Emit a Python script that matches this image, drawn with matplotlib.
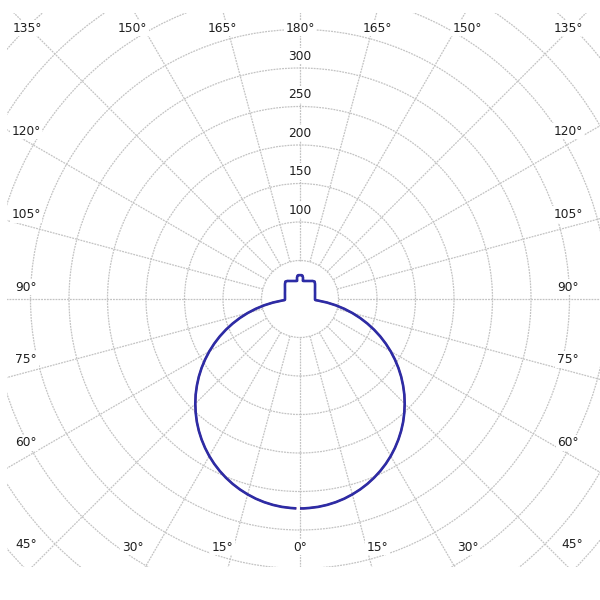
import numpy as np
import matplotlib
matplotlib.use("Agg")
import matplotlib.pyplot as plt
from matplotlib.patches import Circle, Rectangle

# ---------------- data (cd, gamma in degrees, 0 = straight down) ----------------
gamma_deg = [0, 1, 2.5, 5, 7.5, 10, 12.5, 15, 17.5, 20, 22.5, 25, 27.5, 30, 32.5,
             35, 37.5, 40, 42.5, 45, 47.5, 50, 52.5, 55, 57.5, 60, 62.5, 65,
             67.5, 70, 72.5, 75, 77.5, 80, 82.5, 85, 86, 88, 90, 100, 110, 120,
             130, 135, 140, 145, 150, 155, 160, 165, 170, 171, 172, 174, 176, 180]
c0_c180 = [272, 272, 271.7, 271.0, 269.7, 267.9, 265.6, 262.7, 259.4, 255.6,
           251.3, 246.5, 241.3, 235.6, 229.4, 222.8, 215.8, 208.4, 200.5, 192.3,
           183.8, 174.8, 165.6, 156.0, 146.1, 136.0, 125.6, 115.0, 104.1, 93.0,
           81.8, 70.4, 58.9, 47.2, 35.5, 23.7, 20.0, 19.5, 19.5, 19.8, 20.8,
           22.5, 25.5, 27.6, 29.5, 28.6, 27.0, 25.8, 24.9, 24.2, 23.8, 24.0,
           28.0, 30.5, 31.0, 31.0]
c90_c270 = [272, 272, 271.7, 271.0, 269.7, 267.9, 265.6, 262.7, 259.4, 255.6,
            251.3, 246.5, 241.3, 235.6, 229.4, 222.8, 215.8, 208.4, 200.5, 192.3,
            183.8, 174.8, 165.6, 156.0, 146.1, 136.0, 125.6, 115.0, 104.1, 93.0,
            81.8, 70.4, 58.9, 47.2, 35.5, 23.7, 20.0, 19.5, 19.5, 19.8, 20.8,
            22.5, 25.5, 27.6, 29.5, 28.6, 27.0, 25.8, 24.9, 24.2, 23.8, 24.0,
            28.0, 30.5, 31.0, 31.0]
ring_values = [50, 100, 150, 200, 250, 300, 350, 400, 450, 500, 550]
ring_labels = [100, 150, 200, 250, 300]
angle_ticks = [0, 15, 30, 45, 60, 75, 90, 105, 120, 135, 150, 165, 180]

# ---------------- layout ----------------
W = H = 600
CX, CY = 300.0, 299.0       # pixel centre (y from top)
S = 0.77                    # pixels per cd

def to_data(px, py):
    return (px - CX) / S, (CY - py) / S

fig = plt.figure(figsize=(6, 6), dpi=100)
ax = fig.add_axes([0, 0, 1, 1])
ax.set_xlim(-CX / S, (W - CX) / S)
ax.set_ylim(-(H - CY) / S, CY / S)
ax.set_axis_off()

grid_kw = dict(color="#c3c3c3", lw=0.9, linestyle=(0, (1.5, 0.8)))
x0, y1 = to_data(7, 13)
x1, y0 = to_data(600, 567)
clip = Rectangle((x0, y0), x1 - x0, y1 - y0, transform=ax.transData,
                 facecolor="none", edgecolor="none")
ax.add_patch(clip)

for r in ring_values:
    c = Circle((0, 0), r, fill=False, edgecolor=grid_kw["color"], lw=grid_kw["lw"],
               linestyle=grid_kw["linestyle"], zorder=1)
    ax.add_patch(c)
    c.set_clip_path(clip)

for a in range(0, 360, 15):
    t = np.deg2rad(a)
    rr = np.array([50, 900])
    ln, = ax.plot(rr * np.sin(t), -rr * np.cos(t), zorder=1, **grid_kw)
    ln.set_clip_path(clip)

# ---------------- curves ----------------
g = np.deg2rad(np.array(gamma_deg, dtype=float))
for vals, col, lw in ((c0_c180, "#d42a2a", 1.3), (c90_c270, "#2c2ca6", 1.9)):
    r = np.array(vals, dtype=float)
    ax.plot(r * np.sin(g), -r * np.cos(g), color=col, lw=lw, zorder=3,
            solid_capstyle="butt", solid_joinstyle="round")
    ax.plot(-r[1:] * np.sin(g[1:]), -r[1:] * np.cos(g[1:]), color=col, lw=lw,
            zorder=3, solid_capstyle="butt", solid_joinstyle="round")

# ---------------- labels ----------------
txt_kw = dict(fontsize=8.8, family="DejaVu Sans", color="#1e1e1e",
              ha="center", va="center", zorder=5,
              bbox=dict(facecolor="white", edgecolor="none", pad=1.2))

for v in ring_labels:
    ax.text(0, v + 12 / S, f"{v}", **txt_kw)

def label_pos(a, side):
    if a <= 30:
        return CX + side * 290 * np.tan(np.deg2rad(a)), 547
    if a >= 150:
        return CX + side * 290 * np.tan(np.deg2rad(180 - a)), 28
    if a == 45:
        return CX + side * (274 if side < 0 else 272), 545
    if a == 135:
        return CX + side * (273 if side < 0 else 268), 28
    t = np.deg2rad(a)
    return CX + side * (274 if side < 0 else 268), CY - 12 + 270 * np.cos(t) / np.sin(t)

for a in angle_ticks:
    sides = (-1,) if a in (0, 180) else (-1, 1)
    for sd in sides:
        px, py = label_pos(a, sd)
        X, Y = to_data(px, py)
        ax.text(X, Y, f"{a}°", **txt_kw)

fig.savefig("out.png", dpi=100, facecolor="white")
